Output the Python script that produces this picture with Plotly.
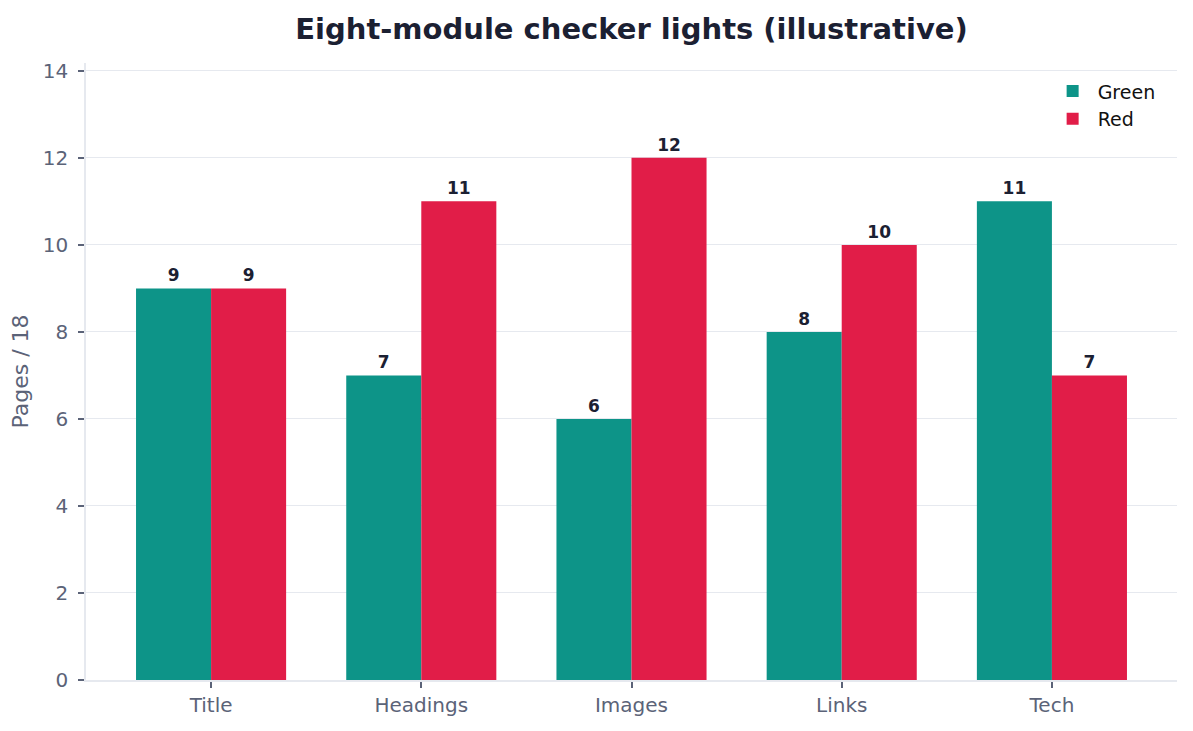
import plotly.graph_objects as go

categories = ["Title", "Headings", "Images", "Links", "Tech"]
green_values = [9, 7, 6, 8, 11]
red_values = [9, 11, 12, 10, 7]
y_ticks = [0, 2, 4, 6, 8, 10, 12, 14]

GREEN = "#0d9488"
RED = "#e11d48"
TEXT_DARK = "#1b2032"
TICK_GREY = "#5b6378"
GRID = "#e6e9ef"

label_font = dict(family="DejaVu Sans", size=17, color=TEXT_DARK, weight="bold")

fig = go.Figure()
fig.add_trace(go.Bar(
    name="Green", x=categories, y=green_values, marker_color=GREEN,
    marker_line_width=0,
    text=[str(v) for v in green_values], textposition="outside",
    textfont=label_font, cliponaxis=False,
))
fig.add_trace(go.Bar(
    name="Red", x=categories, y=red_values, marker_color=RED,
    marker_line_width=0,
    text=[str(v) for v in red_values], textposition="outside",
    textfont=label_font, cliponaxis=False,
))

fig.update_layout(
    width=1185, height=723,
    paper_bgcolor="white", plot_bgcolor="white",
    barmode="group", bargap=0.286, bargroupgap=0,
    margin=dict(l=78, r=16, t=55, b=51),
    font=dict(family="DejaVu Sans", size=20, color=TICK_GREY),
    title=dict(
        text="<b>Eight-module checker lights (illustrative)</b>",
        x=0.5, xref="paper", xanchor="center", y=1 - 21 / 723, yanchor="middle",
        font=dict(family="DejaVu Sans", size=29, color=TEXT_DARK),
    ),
    legend=dict(
        x=0.985, y=0.985, xanchor="right", yanchor="top",
        bgcolor="rgba(0,0,0,0)", borderwidth=0,
        font=dict(family="DejaVu Sans", size=19, color="#111111"),
        tracegroupgap=4, itemwidth=40,
    ),
    uniformtext=dict(mode=False),
)
fig.update_xaxes(
    range=[-0.595, 4.595],
    showline=True, linecolor=GRID, linewidth=1.5,
    ticks="outside", ticklen=6, tickcolor=TICK_GREY, tickwidth=1.5,
    showgrid=False, tickfont=dict(size=20, color=TICK_GREY),
)
fig.update_yaxes(
    range=[0, 14.18], tickvals=y_ticks,
    showline=True, linecolor=GRID, linewidth=1.5,
    ticks="outside", ticklen=6, tickcolor=TICK_GREY, tickwidth=1.5,
    ticklabelstandoff=6,
    showgrid=True, gridcolor=GRID, gridwidth=1.2, zeroline=False,
    tickfont=dict(size=20, color=TICK_GREY),
    title=dict(text="Pages / 18", font=dict(size=22, color=TICK_GREY), standoff=8),
)

fig.write_html("out.html")
